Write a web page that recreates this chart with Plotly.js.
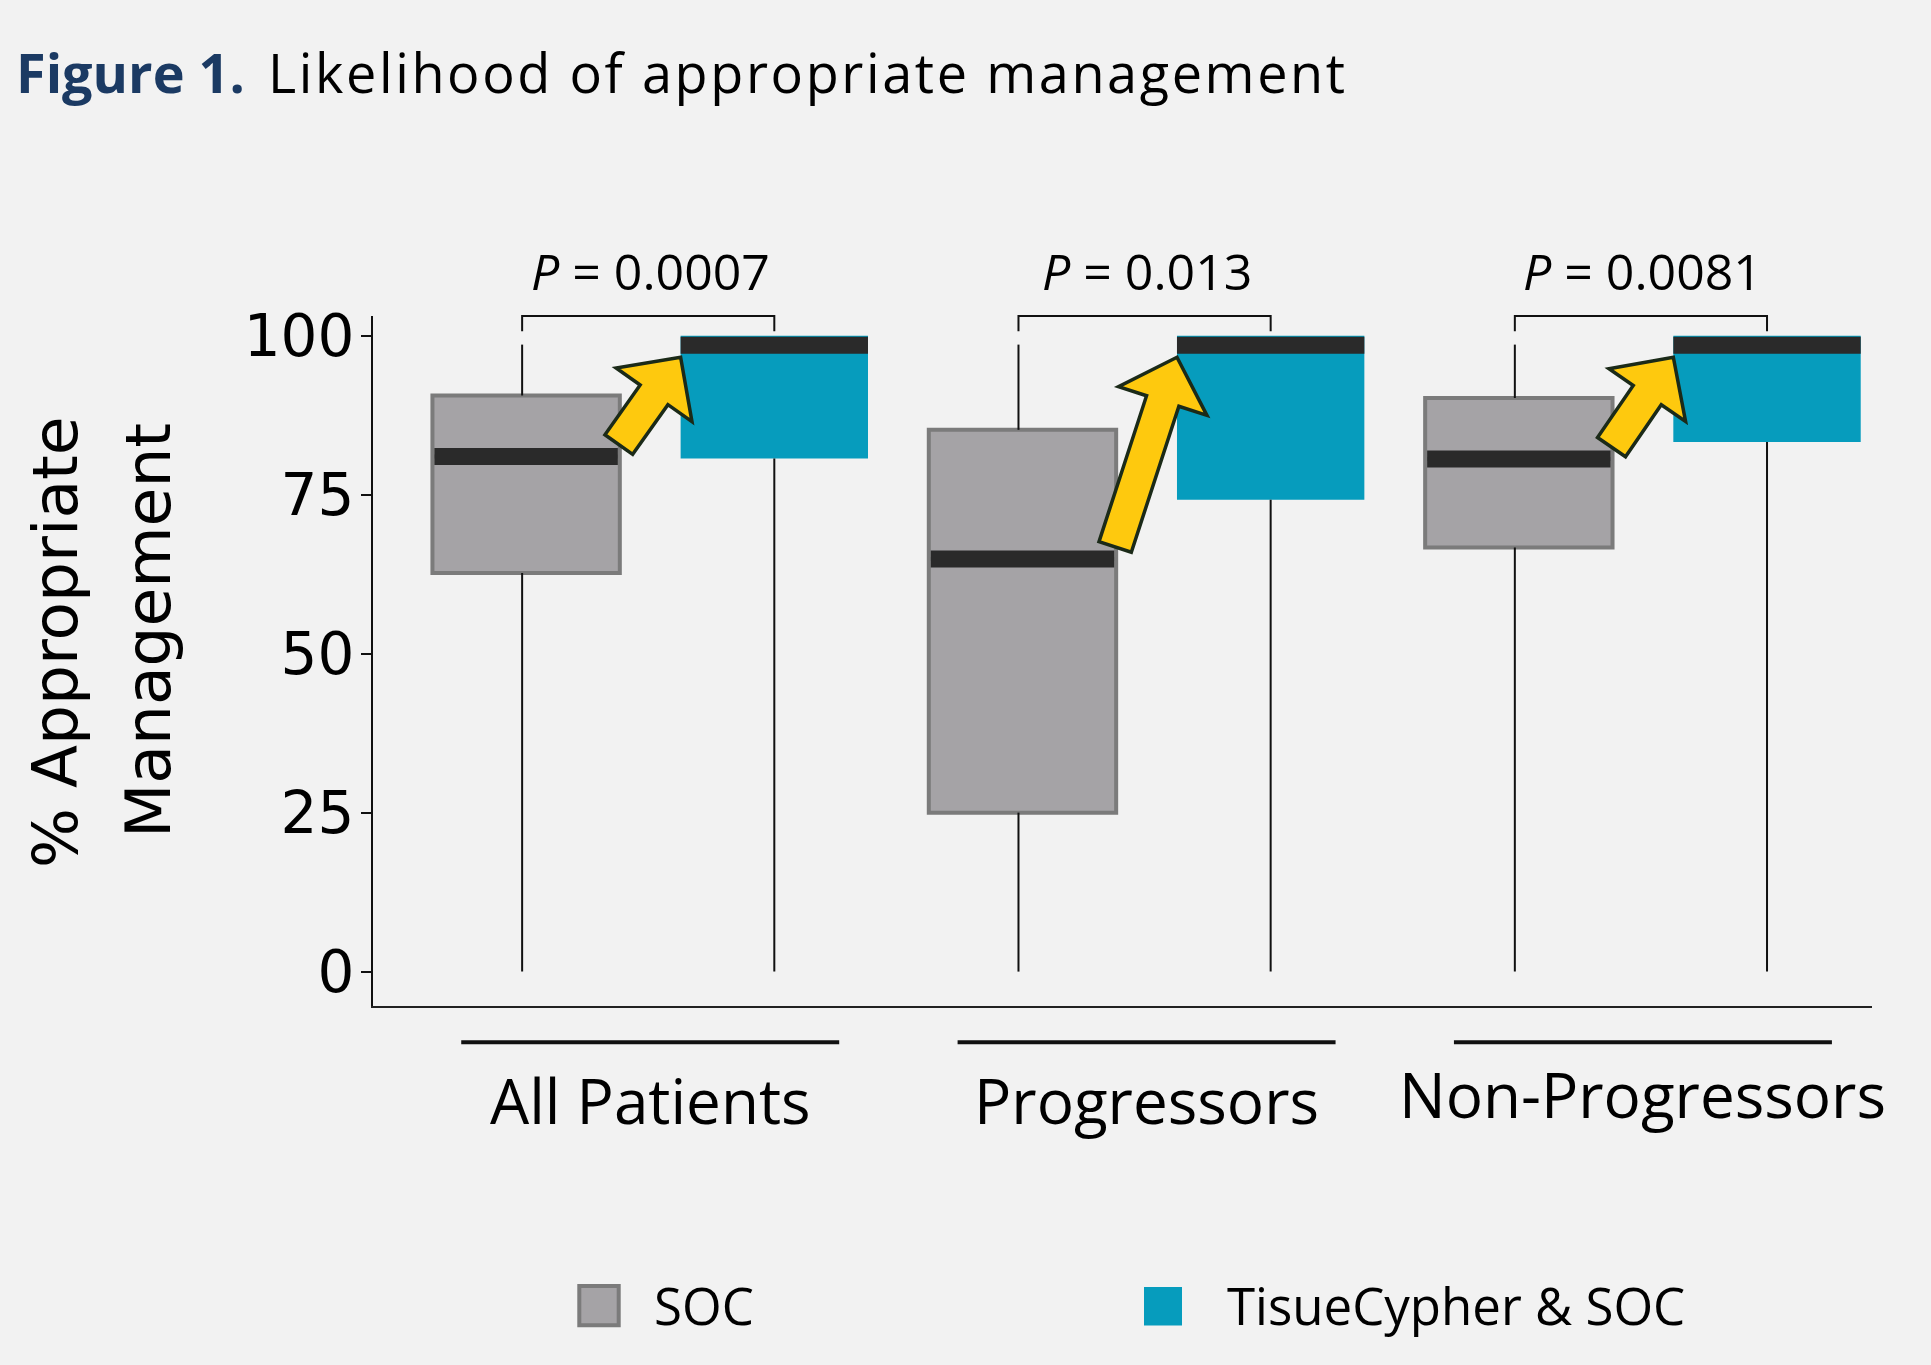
<!DOCTYPE html>
<html>
<head>
<meta charset="utf-8">
<script src="https://cdn.plot.ly/plotly-3.0.1.min.js"></script>
<style>
html,body{margin:0;padding:0;background:#f2f2f2;}
#chart{width:1931px;height:1365px;}
</style>
</head>
<body>
<div id="chart"></div>
<script>
// ---------------- DATA ----------------
const groups = ['All Patients', 'Progressors', 'Non-Progressors'];
const seriesNames = ['SOC', 'TisueCypher & SOC'];

const socLower  = [0, 0, 0];
const socQ1     = [62.7, 25.0, 66.7];
const socMedian = [81.0, 64.9, 80.6];
const socQ3     = [90.6, 85.2, 90.2];
const socUpper  = [98.6, 98.6, 98.6];

const tcLower  = [0, 0, 0];
const tcQ1     = [80.7, 74.2, 83.3];
const tcMedian = [98.5, 98.5, 98.5];
const tcQ3     = [100, 100, 100];
const tcUpper  = [100, 100, 100];

const pValues = ['0.0007', '0.013', '0.0081'];
const yTicks = [0, 25, 50, 75, 100];

// ---------------- LAYOUT GEOMETRY ----------------
const FIG_W = 1931, FIG_H = 1365;
const M = {l: 373, r: 59, t: 316, b: 359, pad: 0};
const PW = FIG_W - M.l - M.r, PH = FIG_H - M.t - M.b;
const XR = [-0.617, 5.423], YR = [-5.41, 103.1];
const BOX_W = 0.755;
const PX_PER_X = PW / (XR[1] - XR[0]);

const socX = groups.map((g, i) => 2 * i);
const tcX = groups.map((g, i) => 2 * i + 1);
const groupX = groups.map((g, i) => 2 * i + 0.5);
const socWhiskerX = socX.map(v => v - 4 / PX_PER_X);

function dataToPxX(v){return M.l + (v - XR[0]) / (XR[1] - XR[0]) * PW;}
function dataToPxY(v){return M.t + PH - (v - YR[0]) / (YR[1] - YR[0]) * PH;}
function pxToDataX(p){return XR[0] + (p - M.l) / PW * (XR[1] - XR[0]);}
function pxToDataY(p){return YR[0] + (M.t + PH - p) / PH * (YR[1] - YR[0]);}
function pxToPaperX(p){return (p - M.l) / PW;}
function pxToPaperY(p){return (M.t + PH - p) / PH;}
function valToPaperY(v){return (v - YR[0]) / (YR[1] - YR[0]);}

const COLORS = {
  bg: '#f2f2f2', socFill: '#a5a3a6', socLine: '#7b7b7b', tc: '#069cbd',
  median: '#2a2a2a', whisker: '#111111', arrow: '#fec90e', arrowLine: '#1b2a18',
  navy: '#1b3a63'
};

// ---------------- TRACES ----------------
const traces = [];
traces.push({
  type: 'box', name: seriesNames[0], x: socX,
  q1: socQ1, median: socMedian, q3: socQ3, lowerfence: socQ1, upperfence: socQ3,
  width: BOX_W, whiskerwidth: 0, boxpoints: false,
  fillcolor: COLORS.socFill, line: {color: COLORS.socLine, width: 4},
  hoverinfo: 'skip', showlegend: false
});
traces.push({
  type: 'box', name: seriesNames[1], x: tcX,
  q1: tcQ1, median: tcMedian, q3: tcQ3, lowerfence: tcQ1, upperfence: tcQ3,
  width: BOX_W, whiskerwidth: 0, boxpoints: false,
  fillcolor: COLORS.tc, line: {color: COLORS.tc, width: 0},
  hoverinfo: 'skip', showlegend: false
});

// whiskers
const wx = [], wy = [];
function addWhisker(x, a, b){ if (Math.abs(b - a) > 1e-9){ wx.push(x, x, null); wy.push(a, b, null);} }
groups.forEach((g, i) => {
  addWhisker(socWhiskerX[i], socLower[i], socQ1[i]);
  addWhisker(socWhiskerX[i], socQ3[i], socUpper[i]);
  addWhisker(tcX[i], tcLower[i], tcQ1[i]);
  addWhisker(tcX[i], tcQ3[i], tcUpper[i]);
});
traces.push({type: 'scatter', mode: 'lines', x: wx, y: wy,
  line: {color: COLORS.whisker, width: 2}, hoverinfo: 'skip', showlegend: false});

// medians (thick bars)
const mx = [], my = [];
const socInset = 2 / PX_PER_X;
groups.forEach((g, i) => {
  mx.push(socX[i] - BOX_W / 2 + socInset, socX[i] + BOX_W / 2 - socInset, null);
  my.push(socMedian[i], socMedian[i], null);
  mx.push(tcX[i] - BOX_W / 2, tcX[i] + BOX_W / 2, null);
  my.push(tcMedian[i], tcMedian[i], null);
});
traces.push({type: 'scatter', mode: 'lines', x: mx, y: my,
  line: {color: COLORS.median, width: 17}, hoverinfo: 'skip', showlegend: false});

// ---------------- SHAPES ----------------
const shapes = [];
// significance brackets
const BR_TOP = 103.1, BR_LEG = 100.7;
groups.forEach((g, i) => {
  shapes.push({
    type: 'path', xref: 'x', yref: 'paper',
    path: `M ${socWhiskerX[i]},${valToPaperY(BR_LEG)} L ${socWhiskerX[i]},${valToPaperY(BR_TOP)} L ${tcX[i]},${valToPaperY(BR_TOP)} L ${tcX[i]},${valToPaperY(BR_LEG)}`,
    line: {color: COLORS.whisker, width: 2}, layer: 'above'
  });
});

// yellow block arrows from SOC median to TisueCypher box
const ARROW = {shaftHalf: 17, headHalf: 46.5, headLen: 46, tailDy: -12, headDy: 12};
groups.forEach((g, i) => {
  const tx = dataToPxX(socX[i] + BOX_W / 2) - 1, ty = dataToPxY(socMedian[i]) + ARROW.tailDy;
  const hx = dataToPxX(tcX[i] - BOX_W / 2), hy = dataToPxY(tcMedian[i]) + ARROW.headDy;
  const L = Math.hypot(hx - tx, hy - ty);
  const ux = (hx - tx) / L, uy = (hy - ty) / L;
  const nx = -uy, ny = ux;
  const bx = hx - ux * ARROW.headLen, by = hy - uy * ARROW.headLen;
  const pts = [
    [tx + nx * ARROW.shaftHalf, ty + ny * ARROW.shaftHalf],
    [bx + nx * ARROW.shaftHalf, by + ny * ARROW.shaftHalf],
    [bx + nx * ARROW.headHalf, by + ny * ARROW.headHalf],
    [hx, hy],
    [bx - nx * ARROW.headHalf, by - ny * ARROW.headHalf],
    [bx - nx * ARROW.shaftHalf, by - ny * ARROW.shaftHalf],
    [tx - nx * ARROW.shaftHalf, ty - ny * ARROW.shaftHalf]
  ];
  const path = pts.map((p, k) => (k ? 'L ' : 'M ') + pxToDataX(p[0]) + ',' + pxToDataY(p[1])).join(' ') + ' Z';
  shapes.push({type: 'path', xref: 'x', yref: 'y', path: path,
    fillcolor: COLORS.arrow, line: {color: COLORS.arrowLine, width: 3.5}, layer: 'above'});
});

// category underlines
const CAT_LINE_HALF = 0.7615;
groups.forEach((g, i) => {
  shapes.push({type: 'line', xref: 'x', yref: 'paper',
    x0: groupX[i] - CAT_LINE_HALF, x1: groupX[i] + CAT_LINE_HALF,
    y0: pxToPaperY(1042.3), y1: pxToPaperY(1042.3),
    line: {color: '#111111', width: 4}});
});

// legend swatches
shapes.push({type: 'rect', xref: 'paper', yref: 'paper',
  x0: pxToPaperX(579.3), x1: pxToPaperX(618.7), y0: pxToPaperY(1325.3), y1: pxToPaperY(1286),
  fillcolor: COLORS.socFill, line: {color: COLORS.socLine, width: 4}});
shapes.push({type: 'rect', xref: 'paper', yref: 'paper',
  x0: pxToPaperX(1144), x1: pxToPaperX(1182), y0: pxToPaperY(1325.5), y1: pxToPaperY(1287),
  fillcolor: COLORS.tc, line: {width: 0}});

// ---------------- ANNOTATIONS ----------------
const annotations = [];
annotations.push({
  xref: 'paper', yref: 'paper', x: pxToPaperX(14), y: pxToPaperY(72),
  xanchor: 'left', yanchor: 'middle', showarrow: false,
  text: '<b><span style="color:' + COLORS.navy + '">Figure 1.</span></b>',
  font: {family: 'Open Sans', size: 54, color: COLORS.navy}
});
annotations.push({
  xref: 'paper', yref: 'paper', x: pxToPaperX(266), y: pxToPaperY(72),
  xanchor: 'left', yanchor: 'middle', showarrow: false,
  text: '<span style="letter-spacing:2.6px">Likelihood of appropriate management</span>',
  font: {family: 'Open Sans', size: 54, color: '#000'}
});
annotations.push({
  xref: 'paper', yref: 'paper', x: pxToPaperX(55), y: pxToPaperY(642),
  xanchor: 'center', yanchor: 'middle', showarrow: false, textangle: -90,
  text: '% Appropriate', font: {family: 'DejaVu Sans', size: 63, color: '#000'}
});
annotations.push({
  xref: 'paper', yref: 'paper', x: pxToPaperX(148), y: pxToPaperY(631),
  xanchor: 'center', yanchor: 'middle', showarrow: false, textangle: -90,
  text: 'Management', font: {family: 'DejaVu Sans', size: 63, color: '#000'}
});
groups.forEach((g, i) => {
  annotations.push({
    xref: 'x', yref: 'paper', x: groupX[i], y: pxToPaperY(271),
    xanchor: 'center', yanchor: 'middle', showarrow: false,
    text: '<i>P</i> = ' + pValues[i], font: {family: 'Open Sans', size: 50, color: '#000'}
  });
});
const catLabelY = [1100, 1100, 1094];
groups.forEach((g, i) => {
  annotations.push({
    xref: 'x', yref: 'paper', x: groupX[i], y: pxToPaperY(catLabelY[i]),
    xanchor: 'center', yanchor: 'middle', showarrow: false,
    text: g, font: {family: 'Open Sans', size: 62, color: '#000'}
  });
});
annotations.push({
  xref: 'paper', yref: 'paper', x: pxToPaperX(652), y: pxToPaperY(1305),
  xanchor: 'left', yanchor: 'middle', showarrow: false,
  text: seriesNames[0], font: {family: 'Open Sans', size: 51, color: '#000'}
});
annotations.push({
  xref: 'paper', yref: 'paper', x: pxToPaperX(1225), y: pxToPaperY(1305),
  xanchor: 'left', yanchor: 'middle', showarrow: false,
  text: seriesNames[1], font: {family: 'Open Sans', size: 51, color: '#000'}
});

// ---------------- LAYOUT ----------------
const layout = {
  width: FIG_W, height: FIG_H,
  margin: M,
  paper_bgcolor: COLORS.bg, plot_bgcolor: COLORS.bg,
  font: {family: 'Open Sans', color: '#000'},
  showlegend: false,
  boxmode: 'overlay',
  xaxis: {
    range: XR, showgrid: false, zeroline: false, showticklabels: false, ticks: '',
    showline: true, linecolor: '#222', linewidth: 2, fixedrange: true
  },
  yaxis: {
    range: YR, showgrid: false, zeroline: false,
    tickmode: 'array', tickvals: yTicks, ticktext: yTicks.map(String),
    ticks: 'outside', ticklen: 10, tickwidth: 2, tickcolor: '#111',
    tickfont: {family: 'DejaVu Sans', size: 58, color: '#000'},
    ticklabelstandoff: -5,
    showline: true, linecolor: '#111', linewidth: 2, fixedrange: true
  },
  shapes: shapes,
  annotations: annotations
};

Plotly.newPlot('chart', traces, layout, {displayModeBar: false, staticPlot: true});
</script>
</body>
</html>
